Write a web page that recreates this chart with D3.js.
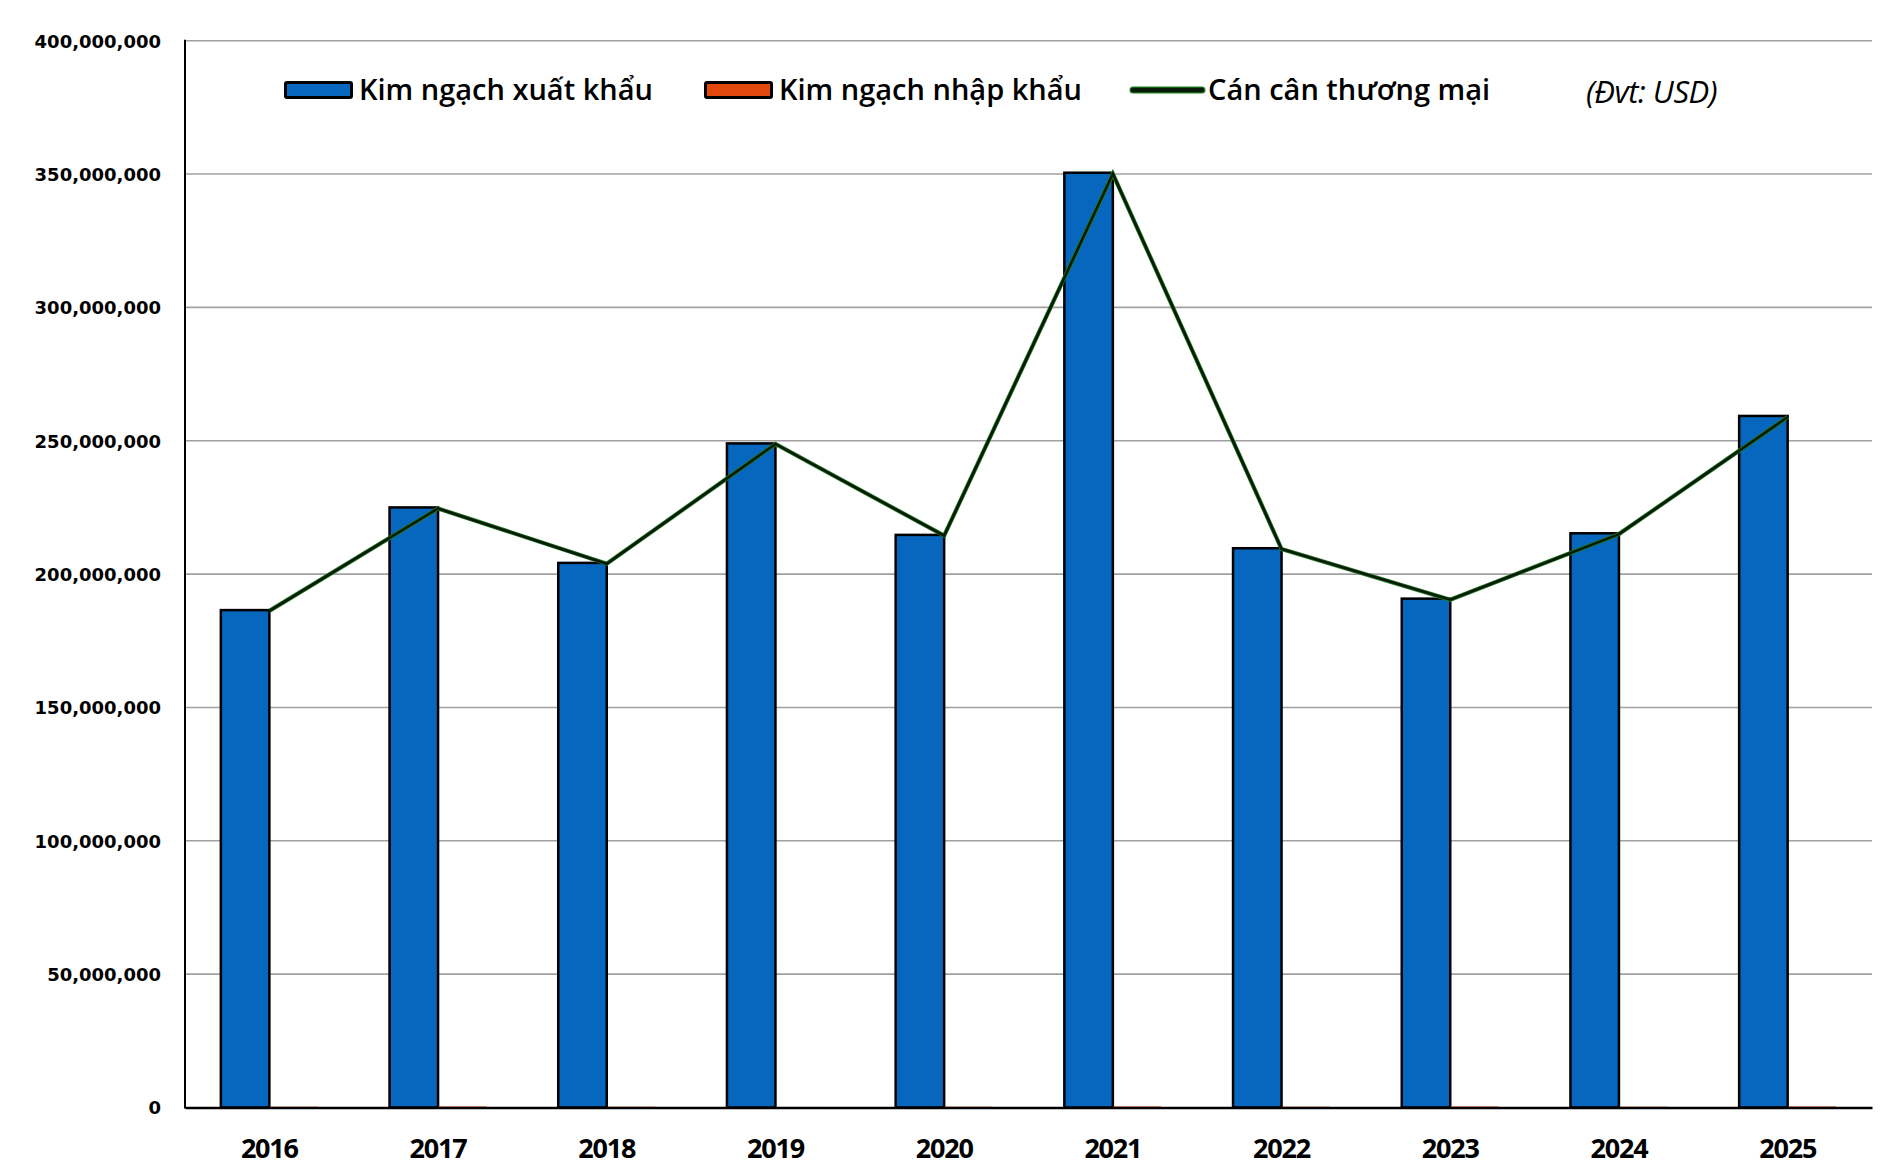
<!DOCTYPE html>
<html><head><meta charset="utf-8">
<script src="https://cdn.jsdelivr.net/npm/d3@7"></script>
<style>body{margin:0;background:#fff}svg{display:block}</style>
</head><body>
<svg id="chart" width="1890" height="1175"></svg>
<script>
const years = ["2016","2017","2018","2019","2020","2021","2022","2023","2024","2025"];
const exportsUSD = [186500000,225000000,204200000,249000000,214700000,350500000,209700000,190800000,215300000,259300000];
const importsUSD = [300000,400000,300000,200000,300000,400000,300000,400000,300000,400000];
const balanceUSD = [186200000,224600000,203900000,248800000,214400000,350100000,209400000,190400000,215000000,258900000];
const yTicks = [0,50000000,100000000,150000000,200000000,250000000,300000000,350000000,400000000];
const seriesNames = ["Kim ngạch xuất khẩu","Kim ngạch nhập khẩu","Cán cân thương mại"];
const unitNote = "(Đvt: USD)";

const svg = d3.select("#chart");
const L = 185, R = 1872, T = 40.7, B = 1107.5;
const blue = "#0767BE", orange = "#E2480C";

const x = d3.scaleBand().domain(years).range([L, R]).paddingInner(0.425).paddingOuter(0.2125);
const x1 = d3.scaleBand().domain([0,1]).range([0, x.bandwidth()]);
const y = d3.scaleLinear().domain([0, 400000000]).range([B, T]);

// gridlines
svg.append("g").selectAll("line").data(yTicks.filter(d=>d>0)).join("line")
  .attr("x1", L).attr("x2", R).attr("y1", d=>y(d)).attr("y2", d=>y(d))
  .attr("stroke", "#a0a0a0").attr("stroke-width", 1.6);

// y axis labels
const yAxis = d3.axisLeft(y).tickValues(yTicks).tickSize(0).tickPadding(0)
  .tickFormat(d => d3.format(",")(d));
const gy = svg.append("g").attr("transform", `translate(161,0)`).call(yAxis);
gy.select(".domain").remove();
gy.selectAll("text").attr("font-family","DejaVu Sans").attr("font-weight","bold")
  .attr("font-size", 18).attr("fill","#000").attr("dy","0.35em");

// bars
const groups = svg.append("g").selectAll("g").data(years).join("g")
  .attr("transform", d => `translate(${x(d)},0)`);
groups.append("rect")
  .attr("x", x1(0)).attr("width", x1.bandwidth())
  .attr("y", (d,i)=>y(exportsUSD[i])).attr("height", (d,i)=>B - y(exportsUSD[i]))
  .attr("fill", blue).attr("stroke","#000").attr("stroke-width",2.5);
groups.append("rect")
  .attr("x", x1(1)).attr("width", x1.bandwidth())
  .attr("y", (d,i)=>y(importsUSD[i])).attr("height", (d,i)=>B - y(importsUSD[i]))
  .attr("fill", orange).attr("stroke","none");

// axes lines
svg.append("line").attr("x1",L).attr("x2",L).attr("y1",T-1).attr("y2",B+1)
  .attr("stroke","#000").attr("stroke-width",2);
const xAxis = d3.axisBottom(x).tickSize(0).tickPadding(0);
const gx = svg.append("g").attr("transform",`translate(0,${B})`).call(xAxis);
gx.select(".domain").attr("stroke","#000").attr("stroke-width",2.5);
gx.selectAll("text").attr("font-family","Open Sans").attr("font-weight","bold")
  .attr("font-size",27).attr("letter-spacing","-1.2px").attr("fill","#000")
  .attr("y", 41).attr("dy","0.35em");

// balance line
const lineGen = d3.line().x((d,i)=>x(years[i]) + x.bandwidth()/2).y(d=>y(d));
svg.append("path").datum(balanceUSD).attr("d", lineGen)
  .attr("fill","none").attr("stroke","#1f7a1f").attr("stroke-width",4.2).attr("stroke-linejoin","miter");
svg.append("path").datum(balanceUSD).attr("d", lineGen)
  .attr("fill","none").attr("stroke","#0a1a0a").attr("stroke-width",2.6).attr("stroke-linejoin","miter");

// legend
const lg = svg.append("g");
const legY = 90;
const legItems = [
  {name: seriesNames[0], x: 284, type: "bar", color: blue},
  {name: seriesNames[1], x: 704, type: "bar", color: orange},
  {name: seriesNames[2], x: 1133, type: "line", color: "#0a1a0a"}
];
legItems.forEach(it => {
  if (it.type === "bar") {
    lg.append("rect").attr("x", it.x+1.5).attr("y", legY-7.5).attr("width", 66).attr("height", 15)
      .attr("fill", it.color).attr("stroke","#000").attr("stroke-width",3).attr("rx",1.5);
  } else {
    lg.append("line").attr("x1", it.x).attr("x2", it.x+69).attr("y1", legY).attr("y2", legY)
      .attr("stroke","#1f7a1f").attr("stroke-width",7).attr("stroke-linecap","round");
    lg.append("line").attr("x1", it.x).attr("x2", it.x+69).attr("y1", legY).attr("y2", legY)
      .attr("stroke","#0a1a0a").attr("stroke-width",4.5).attr("stroke-linecap","round");
  }
  lg.append("text").attr("x", it.x+75).attr("y", legY).attr("dy","0.35em")
    .attr("font-family","Open Sans").attr("font-weight",600).attr("font-size",29)
    .attr("fill","#000").text(it.name);
});
lg.append("text").attr("x", 1586).attr("y", legY+2).attr("dy","0.35em")
  .attr("font-family","Open Sans").attr("font-style","italic").attr("font-size",31)
  .attr("letter-spacing","-0.5px").attr("fill","#000").text(unitNote);
</script>
</body></html>
